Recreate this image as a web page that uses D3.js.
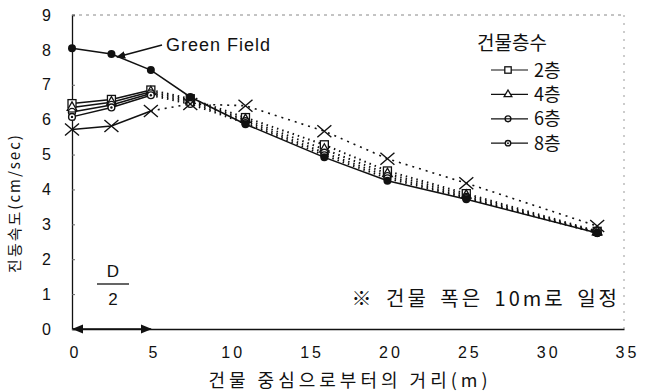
<!DOCTYPE html>
<html>
<head>
<meta charset="utf-8">
<script src="https://cdn.jsdelivr.net/npm/d3@7"></script>
<style>
  body { margin: 0; background: #fff; }
  svg { display: block; }
  text { fill: #111; }
  .num { font-family: "Liberation Sans", Arial, sans-serif; }
  .kr { font-family: "Noto Sans CJK KR", sans-serif; }
</style>
</head>
<body>
<div id="chart"></div>
<script>
// distance from building centre (m)
const distances = [0, 2.5, 5, 7.5, 11, 16, 20, 25, 33.3];
// vibration velocity (cm/sec)
const greenField = [8.05, 7.88, 7.42, 6.65, 5.87, 4.92, 4.25, 3.72, 2.75];
const floor2 = [6.46, 6.58, 6.85, 6.6, 6.06, 5.28, 4.53, 3.88, 2.8];
const floor4 = [6.35, 6.5, 6.8, 6.55, 6.0, 5.15, 4.45, 3.83, 2.78];
const floor6 = [6.22, 6.42, 6.75, 6.5, 5.95, 5.05, 4.38, 3.78, 2.76];
const floor8 = [6.08, 6.35, 6.7, 6.45, 5.9, 4.98, 4.32, 3.75, 2.75];
const crossSeries = [5.72, 5.82, 6.25, 6.45, 6.4, 5.67, 4.88, 4.18, 2.95];

const xTicks = [0, 5, 10, 15, 20, 25, 30, 35];
const yTicks = [0, 1, 2, 3, 4, 5, 6, 7, 8, 9];
const legendTitle = "건물층수";
const legendLabels = ["2층", "4층", "6층", "8층"];

const width = 645, height = 391;
const margin = { top: 15, right: 21, bottom: 62, left: 72 };

const svg = d3.select("#chart").append("svg")
  .attr("width", width)
  .attr("height", height);

const x = d3.scaleLinear().domain([0, 35]).range([margin.left, width - margin.right]);
const y = d3.scaleLinear().domain([0, 9]).range([height - margin.bottom, margin.top]);

// frame: top and right are faint dotted in the scan
svg.append("line")
  .attr("x1", x(0)).attr("x2", x(35)).attr("y1", y(9)).attr("y2", y(9))
  .attr("stroke", "#888").attr("stroke-width", 1).attr("stroke-dasharray", "3,4");
svg.append("line")
  .attr("x1", x(35)).attr("x2", x(35)).attr("y1", y(9)).attr("y2", y(0))
  .attr("stroke", "#999").attr("stroke-width", 1).attr("stroke-dasharray", "2,6");

// axes
const xAxis = svg.append("g")
  .attr("transform", "translate(0," + y(0) + ")")
  .call(d3.axisBottom(x).tickValues(xTicks).tickSize(0).tickPadding(18));
xAxis.select(".domain").attr("stroke", "#111").attr("stroke-width", 1.3);
xAxis.selectAll("text")
  .attr("class", "num")
  .style("font-size", "16px")
  .style("letter-spacing", "3px")
  .attr("dx", "3px");

const yAxis = svg.append("g")
  .attr("transform", "translate(" + x(0) + ",0)")
  .call(d3.axisLeft(y).tickValues(yTicks).tickSize(-3).tickPadding(21));
yAxis.select(".domain").attr("stroke", "#111").attr("stroke-width", 1.3);
yAxis.selectAll(".tick line").attr("stroke", "#666");
yAxis.selectAll("text")
  .attr("class", "num")
  .style("font-size", "16px");

// axis titles
svg.append("text")
  .attr("class", "kr")
  .attr("x", 350).attr("y", 387)
  .attr("text-anchor", "middle")
  .style("font-size", "18px")
  .style("letter-spacing", "4px")
  .text("건물 중심으로부터의 거리(m)");

svg.append("text")
  .attr("class", "kr")
  .attr("transform", "translate(20,203) rotate(-90)")
  .attr("text-anchor", "middle")
  .style("font-size", "15px")
  .style("letter-spacing", "2px")
  .text("진동속도(cm/sec)");

// series
const series = [
  { values: floor2, marker: "square" },
  { values: floor4, marker: "triangle" },
  { values: floor6, marker: "circle" },
  { values: floor8, marker: "dotcircle" },
  { values: crossSeries, marker: "cross" }
];

const line = d3.line()
  .x(d => x(d[0]))
  .y(d => y(d[1]));

function drawMarker(g, type, cx, cy, k) {
  k = k || 1;
  if (type === "square") {
    g.append("rect").attr("x", cx - 4 * k).attr("y", cy - 4 * k).attr("width", 8 * k).attr("height", 8 * k)
      .attr("fill", "#fff").attr("stroke", "#111").attr("stroke-width", 1.3);
  } else if (type === "triangle") {
    g.append("path").attr("d", d3.symbol(d3.symbolTriangle, 40 * k * k)())
      .attr("transform", "translate(" + cx + "," + cy + ")")
      .attr("fill", "#fff").attr("stroke", "#111").attr("stroke-width", 1.3);
  } else if (type === "circle") {
    g.append("circle").attr("cx", cx).attr("cy", cy).attr("r", 3.6 * k)
      .attr("fill", "#fff").attr("stroke", "#111").attr("stroke-width", 1.4);
    g.append("line").attr("x1", cx - 3.6 * k).attr("x2", cx + 3.6 * k).attr("y1", cy).attr("y2", cy)
      .attr("stroke", "#111").attr("stroke-width", 1.2);
  } else if (type === "dotcircle") {
    g.append("circle").attr("cx", cx).attr("cy", cy).attr("r", 3.4 * k)
      .attr("fill", "#fff").attr("stroke", "#111").attr("stroke-width", 1.4);
    g.append("circle").attr("cx", cx).attr("cy", cy).attr("r", 1.2 * k).attr("fill", "#111");
  } else if (type === "cross") {
    g.append("path")
      .attr("d", "M" + (cx - 7) + "," + (cy - 6) + "L" + (cx + 7) + "," + (cy + 6) +
                 "M" + (cx - 7) + "," + (cy + 6) + "L" + (cx + 7) + "," + (cy - 6))
      .attr("stroke", "#111").attr("stroke-width", 1.4).attr("fill", "none");
  } else if (type === "filled") {
    g.append("circle").attr("cx", cx).attr("cy", cy).attr("r", 4)
      .attr("fill", "#111");
  }
}

series.forEach(s => {
  const pts = distances.map((d, i) => [d, s.values[i]]);
  // inside the building (0..5 m) solid, outside dotted
  svg.append("path").datum(pts.slice(0, 3))
    .attr("d", line).attr("fill", "none")
    .attr("stroke", "#111").attr("stroke-width", 1.5);
  svg.append("path").datum(pts.slice(2))
    .attr("d", line).attr("fill", "none")
    .attr("stroke", "#111").attr("stroke-width", s.marker === "cross" ? 1.6 : 2)
    .attr("stroke-dasharray", s.marker === "cross" ? "2,5" : "1.5,4");
});

series.forEach(s => {
  const g = svg.append("g");
  distances.forEach((d, i) => drawMarker(g, s.marker, x(d), y(s.values[i])));
});

// Green Field (solid line, filled circles)
const gfPts = distances.map((d, i) => [d, greenField[i]]);
svg.append("path").datum(gfPts)
  .attr("d", line).attr("fill", "none")
  .attr("stroke", "#111").attr("stroke-width", 1.5);
const gfG = svg.append("g");
gfPts.forEach(p => drawMarker(gfG, "filled", x(p[0]), y(p[1])));

// arrow markers
const defs = svg.append("defs");
defs.append("marker")
  .attr("id", "arrow")
  .attr("viewBox", "0 0 10 10")
  .attr("refX", 9).attr("refY", 5)
  .attr("markerWidth", 7).attr("markerHeight", 7)
  .attr("orient", "auto-start-reverse")
  .append("path").attr("d", "M0,1 L10,5 L0,9 Z").attr("fill", "#111");

// Green Field label with arrow
svg.append("text")
  .attr("class", "num")
  .attr("x", 166).attr("y", 51)
  .style("font-size", "18px")
  .style("letter-spacing", "1px")
  .text("Green Field");
svg.append("line")
  .attr("x1", 162).attr("y1", 45)
  .attr("x2", 117).attr("y2", 57)
  .attr("stroke", "#111").attr("stroke-width", 1.3)
  .attr("marker-end", "url(#arrow)");

// legend
svg.append("text")
  .attr("class", "kr")
  .attr("x", 512).attr("y", 50)
  .attr("text-anchor", "middle")
  .style("font-size", "19px")
  .text(legendTitle);

legendLabels.forEach((lab, i) => {
  const ly = 70 + i * 24.4;
  const g = svg.append("g");
  g.append("line").attr("x1", 491).attr("x2", 528).attr("y1", ly).attr("y2", ly)
    .attr("stroke", "#111").attr("stroke-width", 1.2);
  drawMarker(g, series[i].marker, 508, ly, 0.8);
  g.append("text")
    .attr("class", "kr")
    .attr("x", 534).attr("y", ly + 6.5)
    .style("font-size", "18px")
    .text(lab);
});

// D/2 annotation
svg.append("text")
  .attr("class", "num")
  .attr("x", 113).attr("y", 277)
  .attr("text-anchor", "middle")
  .style("font-size", "17px")
  .text("D");
svg.append("line")
  .attr("x1", 97).attr("x2", 129).attr("y1", 284).attr("y2", 284)
  .attr("stroke", "#111").attr("stroke-width", 1.3);
svg.append("text")
  .attr("class", "num")
  .attr("x", 113).attr("y", 305)
  .attr("text-anchor", "middle")
  .style("font-size", "17px")
  .text("2");
svg.append("line")
  .attr("x1", x(0) + 1).attr("x2", x(5))
  .attr("y1", y(0)).attr("y2", y(0))
  .attr("stroke", "#111").attr("stroke-width", 1.6)
  .attr("marker-start", "url(#arrow)")
  .attr("marker-end", "url(#arrow)");

// note
svg.append("text")
  .attr("class", "kr")
  .attr("x", 620).attr("y", 306)
  .attr("text-anchor", "end")
  .style("font-size", "20px")
  .style("letter-spacing", "3px")
  .style("word-spacing", "4px")
  .text("※ 건물 폭은 10m로 일정");
</script>
</body>
</html>
